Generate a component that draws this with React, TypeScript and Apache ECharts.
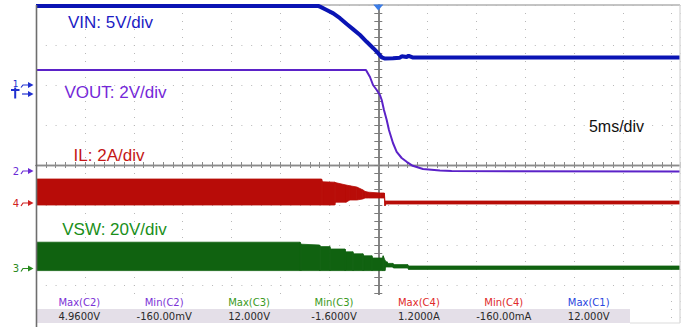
import React, { useEffect, useRef } from "react";
import * as echarts from "echarts";

// Time in ms (5 ms/div), vertical values in screen divisions (centre = 0)
const vinT = [-35, -6.13, -5.96, -5.28, -4.6, -3.92, -3.23, -2.56, -1.87, -1.19, -0.51, 0, 0.35, 0.69, 1.5, 2.2, 2.4, 2.9, 3.1, 3.5, 3.7, 30.85];
const vinV = [3.975, 3.975, 3.96, 3.875, 3.79, 3.67, 3.525, 3.39, 3.25, 3.08, 2.92, 2.79, 2.69, 2.66, 2.67, 2.68, 2.72, 2.7, 2.73, 2.69, 2.69, 2.69];

const voutT = [-35, -1.26, -0.85, -0.54, -0.16, 0.17, 0.35, 0.58, 0.86, 1.09, 1.5, 1.88, 2.39, 2.9, 3.52, 4.57, 6.3, 7.5, 30.85];
const voutV = [2.375, 2.375, 2.2, 2.0, 1.875, 1.75, 1.625, 1.375, 1.125, 0.875, 0.55, 0.33, 0.175, 0.08, -0.02, -0.1, -0.14, -0.15, -0.165];

const ilT = [-35, -5.8, -5.7, -4.45, -4.4, -3.3, -2.9, -2.2, -1.6, -1.35, -1.0, 0.2, 0.62, 0.68, 0.8, 30.85];
const ilTop = [-0.35, -0.35, -0.42, -0.43, -0.44, -0.5, -0.52, -0.55, -0.62, -0.66, -0.68, -0.7, -0.7, -0.9, -0.9, -0.9];
const ilLow = [-1.0, -1.0, -1.0, -1.0, -0.93, -0.93, -0.875, -0.875, -0.85, -0.825, -0.825, -0.825, -0.825, -1.02, -0.975, -0.975];

const vswT = [-35, -8.0, -7.9, -6.0, -5.95, -4.95, -4.9, -3.4, -3.35, -2.6, -2.55, -1.57, -1.5, -0.65, -0.6, 0.45, 0.5, 0.68, 0.72, 0.9, 0.95, 1.5, 1.55, 3.0, 3.1, 30.85];
const vswTop = [-1.93, -1.93, -1.98, -2.0, -2.04, -2.04, -2.1, -2.1, -2.17, -2.17, -2.22, -2.22, -2.27, -2.27, -2.325, -2.325, -2.27, -2.38, -2.42, -2.42, -2.46, -2.46, -2.49, -2.49, -2.525, -2.525];
const vswLow = [-2.64, -2.64, -2.64, -2.64, -2.64, -2.64, -2.64, -2.64, -2.64, -2.64, -2.64, -2.64, -2.64, -2.64, -2.64, -2.64, -2.64, -2.64, -2.55, -2.55, -2.55, -2.55, -2.575, -2.575, -2.61, -2.61];

const channelLabels = ["VIN: 5V/div", "VOUT: 2V/div", "IL: 2A/div", "VSW: 20V/div"];
const timebaseLabel = "5ms/div";
const measHeaders = ["Max(C2)", "Min(C2)", "Max(C3)", "Min(C3)", "Max(C4)", "Min(C4)", "Max(C1)"];
const measValues = ["4.9600V", "-160.00mV", "12.000V", "-1.6000V", "1.2000A", "-160.00mA", "12.000V"];
const measColors = ["#7b32d6", "#7b32d6", "#3a9a22", "#3a9a22", "#e02a2a", "#e02a2a", "#2a46e0"];

const C_VIN = "#0a14b4";
const C_VOUT = "#5b22c8";
const C_IL = "#b80c08";
const C_VSW = "#106210";

const zip = (a: number[], b: number[]) => a.map((t, i) => [t, b[i]]);
// band segments: [t0, low0, top0, t1, low1, top1]
const segs = (t: number[], lo: number[], hi: number[]) =>
  t.slice(0, -1).map((v, i) => [v, lo[i], hi[i], t[i + 1], lo[i + 1], hi[i + 1]]);

function bandSeries(name: string, t: number[], lo: number[], hi: number[], color: string) {
  return {
    type: "custom",
    name,
    data: segs(t, lo, hi),
    encode: { x: [0, 3], y: [1, 2, 4, 5] },
    clip: true,
    z: 3,
    renderItem: (_p: any, api: any) => {
      const a = api.coord([api.value(0), api.value(1)]);
      const b = api.coord([api.value(3), api.value(4)]);
      const c = api.coord([api.value(3), api.value(5)]);
      const d = api.coord([api.value(0), api.value(2)]);
      return {
        type: "polygon",
        shape: { points: [a, b, c, d] },
        style: { fill: color, stroke: color, lineWidth: 0.8 },
      };
    },
  };
}

function marker(label: string, y: number, color: string) {
  return [
    { type: "text", x: 16, y, style: { text: label, fill: color, font: "10px 'DejaVu Sans'", textAlign: "center", textVerticalAlign: "middle" } },
    { type: "polyline", shape: { points: [[21, y + 3], [23, y], [29, y]] }, style: { stroke: color, lineWidth: 1.2, fill: null } },
    { type: "polygon", shape: { points: [[28, y - 3], [33.5, y], [28, y + 3]] }, style: { fill: color } },
  ];
}

export default function App() {
  const ref = useRef<HTMLDivElement>(null);
  useEffect(() => {
    if (!ref.current) return;
    const chart = echarts.init(ref.current, undefined, { renderer: "svg" });
    const tickCol = "#8a8a8a";
    const xBase: any = {
      type: "value", min: -35, max: 30.85, interval: 5,
      axisLabel: { show: false },
      axisLine: { onZero: true, lineStyle: { color: tickCol, width: 1.3 } },
      axisTick: { show: true, length: 3, lineStyle: { color: tickCol } },
      minorTick: { show: true, splitNumber: 5, length: 3, lineStyle: { color: tickCol } },
    };
    const yBase: any = {
      type: "value", min: -4, max: 4, interval: 1,
      axisLabel: { show: false },
      axisLine: { onZero: true, lineStyle: { color: "#7c7c7c", width: 1.5 } },
      axisTick: { show: true, length: 4, lineStyle: { color: "#7c7c7c" } },
      minorTick: { show: true, splitNumber: 5, length: 4, lineStyle: { color: "#7c7c7c" } },
    };
    const tableZ = 100;
    const blue = "#2030d0";
    const graphics: any[] = [
      { type: "line", shape: { x1: 36, y1: 5, x2: 680, y2: 5 }, style: { stroke: "#b0b0b0", lineWidth: 1.5 }, z: 0 },
      { type: "rect", shape: { x: 37, y: 295, width: 593, height: 14 }, style: { fill: "#ffffff" }, z: tableZ },
      { type: "rect", shape: { x: 37, y: 309, width: 593, height: 14 }, style: { fill: "#e4dfe8" }, z: tableZ },
      { type: "rect", shape: { x: 37, y: 323, width: 649, height: 4 }, style: { fill: "#ffffff" }, z: tableZ },
      { type: "rect", shape: { x: 680.6, y: 0, width: 6, height: 327 }, style: { fill: "#ffffff" }, z: tableZ },
      { type: "line", shape: { x1: 680, y1: 5, x2: 680, y2: 323 }, style: { stroke: "#d4d4d4", lineWidth: 1.2 }, z: tableZ + 1 },
      { type: "line", shape: { x1: 630, y1: 323, x2: 680, y2: 323 }, style: { stroke: "#dcdcdc", lineWidth: 1.2 }, z: tableZ + 1 },
      { type: "line", shape: { x1: 36.5, y1: 5, x2: 36.5, y2: 327 }, style: { stroke: "#6e6e6e", lineWidth: 1.6 }, z: tableZ + 2 },
      { type: "polygon", shape: { points: [[373.3, 4.5], [383.3, 4.5], [378.3, 10.5]] }, style: { fill: "#3a7ce8" }, z: tableZ },
      { type: "text", x: 110.5, y: 22.5, style: { text: channelLabels[0], fill: "#1c1cc4", font: "17px 'Liberation Sans'", textAlign: "center", textVerticalAlign: "middle" }, z: tableZ },
      { type: "text", x: 115.5, y: 92, style: { text: channelLabels[1], fill: "#7428d8", font: "17px 'Liberation Sans'", textAlign: "center", textVerticalAlign: "middle" }, z: tableZ },
      { type: "text", x: 109, y: 155, style: { text: channelLabels[2], fill: "#c41616", font: "17px 'Liberation Sans'", textAlign: "center", textVerticalAlign: "middle" }, z: tableZ },
      { type: "text", x: 114.5, y: 229.5, style: { text: channelLabels[3], fill: "#1a8f1a", font: "17px 'Liberation Sans'", textAlign: "center", textVerticalAlign: "middle" }, z: tableZ },
      { type: "text", x: 616.5, y: 126, style: { text: timebaseLabel, fill: "#111111", font: "16px 'Liberation Sans'", textAlign: "center", textVerticalAlign: "middle" }, z: tableZ },
      { type: "text", x: 15.5, y: 84, style: { text: "1", fill: blue, font: "9px 'DejaVu Sans'", textAlign: "center", textVerticalAlign: "middle" } },
      { type: "polyline", shape: { points: [[21, 87.5], [23, 85], [29, 85]] }, style: { stroke: blue, lineWidth: 1.2, fill: null } },
      { type: "polygon", shape: { points: [[28, 82], [33.5, 85], [28, 88]] }, style: { fill: blue } },
      ...marker("2", 171, "#6a2ad6"),
      ...marker("4", 203, "#d02020"),
      ...marker("3", 268.5, "#2a8a20"),
      { type: "line", shape: { x1: 11, y1: 90, x2: 19.5, y2: 90 }, style: { stroke: blue, lineWidth: 2 } },
      { type: "line", shape: { x1: 15.2, y1: 87.5, x2: 15.2, y2: 98.5 }, style: { stroke: blue, lineWidth: 2 } },
      { type: "line", shape: { x1: 22, y1: 94, x2: 29, y2: 94 }, style: { stroke: blue, lineWidth: 1.2 } },
      { type: "polygon", shape: { points: [[28, 91], [33.5, 94], [28, 97]] }, style: { fill: blue } },
    ];
    measHeaders.forEach((h, i) => {
      const cx = 79.3 + i * 84.9;
      graphics.push({ type: "text", x: cx, y: 302.7, z: tableZ + 1, style: { text: h, fill: measColors[i], font: "10px 'DejaVu Sans'", textAlign: "center", textVerticalAlign: "middle" } });
      graphics.push({ type: "text", x: cx, y: 316, z: tableZ + 1, style: { text: measValues[i], fill: "#2a2a2a", font: "10px 'DejaVu Sans'", textAlign: "center", textVerticalAlign: "middle" } });
    });

    chart.setOption({
      animation: false,
      grid: { left: 36, top: 5, width: 644, height: 320, containLabel: false, show: false },
      xAxis: [
        { ...xBase, position: "bottom", splitLine: { show: true, lineStyle: { color: "#b8b8b8", width: 1, type: [1, 7] } } },
        { ...xBase, position: "top", splitLine: { show: false } },
      ],
      yAxis: [
        { ...yBase, position: "left", splitLine: { show: true, lineStyle: { color: "#b8b8b8", width: 1, type: [1, 8.78] } } },
        { ...yBase, position: "right", splitLine: { show: false } },
      ],
      series: [
        bandSeries("VSW", vswT, vswLow, vswTop, C_VSW),
        bandSeries("IL", ilT, ilLow, ilTop, C_IL),
        { type: "line", name: "VOUT", data: zip(voutT, voutV), symbol: "none", lineStyle: { width: 2, color: C_VOUT }, z: 4 },
        { type: "line", name: "VIN", data: zip(vinT, vinV), symbol: "none", lineStyle: { width: 4, color: C_VIN }, z: 5 },
      ],
      graphic: graphics,
    });
    return () => chart.dispose();
  }, []);
  return <div ref={ref} style={{ position: "fixed", left: 0, top: 0, width: 686, height: 327, background: "#ffffff" }} />;
}
